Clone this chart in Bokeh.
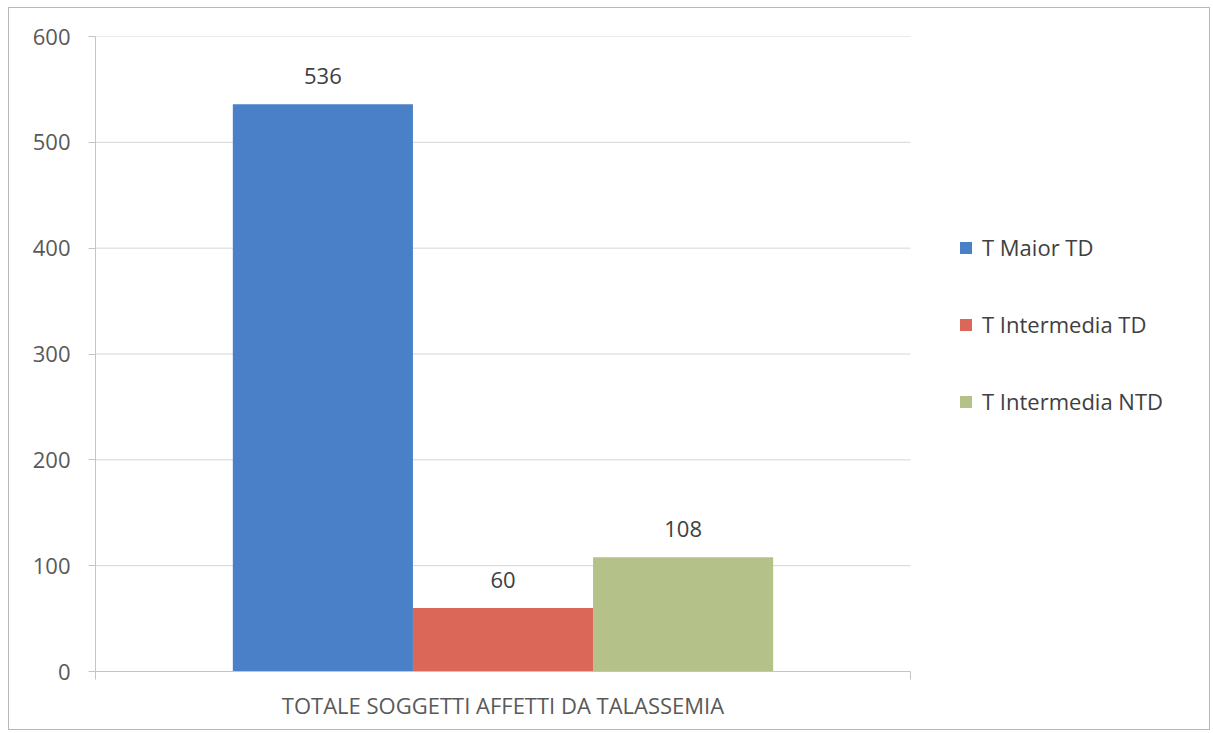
from bokeh.plotting import figure
from bokeh.models import Range1d, ColumnDataSource, LabelSet, Legend, LegendItem, FixedTicker
from bokeh.core.properties import value
from bokeh.embed import file_html
from bokeh.resources import INLINE

category = ["TOTALE SOGGETTI AFFETTI DA TALASSEMIA"]
series = ["T Maior TD", "T Intermedia TD", "T Intermedia NTD"]
values = [536, 60, 108]
colors = ["#4a80c8", "#db6758", "#b4c28a"]
y_ticks = [0, 100, 200, 300, 400, 500, 600]

FONT = "Open Sans"
FS = "22px"
bar_w = 0.221
cat_x = [i + 0.5 for i in range(len(category))]
n_cat = len(category)

W, H = 1202, 723
ML, MR, MT, MB = 86, 10, 28, 60
plot_px = 815  # pixel width of the category area
frame_px = W - ML - MR

p = figure(width=W, height=H, output_backend="svg", toolbar_location=None,
           x_range=Range1d(0, n_cat * frame_px / plot_px),
           y_range=Range1d(0, 600),
           min_border_left=ML, min_border_right=MR, min_border_top=MT, min_border_bottom=MB)
p.styles = {"border": "1px solid #b8b8b8", "box-sizing": "border-box",
            "margin-left": "8px", "margin-top": "7px"}
p.outline_line_color = None
p.background_fill_color = "white"

# horizontal gridlines limited to the category area
p.xgrid.grid_line_color = None
p.ygrid.grid_line_color = None
p.segment(x0=[0] * len(y_ticks), x1=[n_cat] * len(y_ticks), y0=y_ticks, y1=y_ticks,
          line_color="#d6d6d6", line_width=1)

items = []
for i, (name, val, col) in enumerate(zip(series, values, colors)):
    off = (i - 1) * bar_w
    src = ColumnDataSource(dict(x=[c + off for c in cat_x], val=[val], lab=[str(val)]))
    r = p.vbar(x="x", top="val", width=bar_w, source=src, fill_color=col, line_color=None)
    items.append(LegendItem(label=name, renderers=[r]))
    lbl = LabelSet(x="x", y="val", text="lab", source=src,
                   text_align="center", text_baseline="alphabetic", y_offset=20,
                   text_font=value(FONT), text_font_size=value(FS), text_color="#404040")
    p.add_layout(lbl)

legend = Legend(items=items, location=(863, 255), orientation="vertical",
                label_text_font=FONT, label_text_font_size=FS, label_text_color="#404040",
                glyph_width=15, glyph_height=15, label_height=24, spacing=47,
                label_standoff=9, background_fill_alpha=0, border_line_color=None,
                padding=0, margin=0)
p.add_layout(legend, "center")

p.yaxis.ticker = FixedTicker(ticks=y_ticks)
p.yaxis.major_label_text_font = FONT
p.yaxis.major_label_text_font_size = FS
p.yaxis.major_label_text_color = "#595959"
p.yaxis.major_label_standoff = 18
p.yaxis.major_tick_out = 7
p.yaxis.major_tick_in = 0
p.yaxis.minor_tick_line_color = None
p.yaxis.axis_line_color = "#c4c4c4"
p.yaxis.major_tick_line_color = "#c4c4c4"

p.xaxis.ticker = FixedTicker(ticks=cat_x, minor_ticks=list(range(n_cat + 1)))
p.xaxis.major_label_overrides = {c: lab for c, lab in zip(cat_x, category)}
p.xaxis.bounds = (0, n_cat)
p.xaxis.major_label_text_font = FONT
p.xaxis.major_label_text_font_size = FS
p.xaxis.major_label_text_color = "#595959"
p.xaxis.major_label_standoff = 10
p.xaxis.major_tick_line_color = None
p.xaxis.minor_tick_line_color = "#c4c4c4"
p.xaxis.minor_tick_out = 8
p.xaxis.minor_tick_in = 0
p.xaxis.axis_line_color = "#c4c4c4"

open("out.html", "w").write(file_html(p, INLINE))
